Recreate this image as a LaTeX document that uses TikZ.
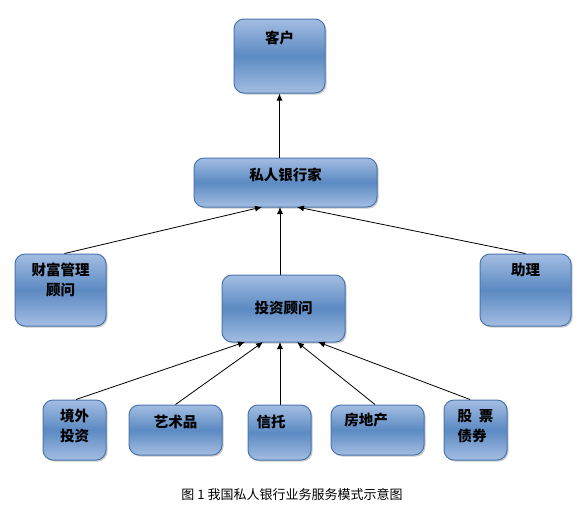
\documentclass[tikz,border=0pt]{standalone}
\usepackage{fontspec}
\newfontfamily\cjk{Noto Sans CJK SC}
\usetikzlibrary{shadows,arrows.meta}
\definecolor{boxlight}{HTML}{A3BDE2}
\definecolor{boxmid}{HTML}{4F81BD}
\definecolor{boxedge}{HTML}{4A76AE}
\begin{document}
\begin{tikzpicture}[x=1pt,y=-1pt,
  box/.style={draw=boxedge, line width=1pt, rounded corners=10pt,
    top color=boxlight, bottom color=boxlight, middle color=boxmid!85!boxlight,
    shading angle=0,
    drop shadow={shadow xshift=1.5pt, shadow yshift=-1.5pt, opacity=0.35, fill=black!60},
    inner sep=0pt, font=\cjk\bfseries\fontsize{14}{20}\selectfont, align=center,
    text=black},
  lbl/.style={font=\cjk\bfseries\fontsize{14.5}{20}\selectfont, align=center, text=black},
  conn/.style={-{Latex[length=7pt,width=6pt]}, line width=0.8pt, draw=black}]
\useasboundingbox (0,0) rectangle (580,520);
\fill[white] (0,0) rectangle (580,520);
% boxes
\node[box, minimum width=91pt, minimum height=74pt] (kehu) at (279.5,56) {};
\node[lbl] (kehut) at (279.5,38) {客户};
\node[box, minimum width=183pt, minimum height=49pt] (sr) at (285.5,182.5) {};
\node[lbl] (srt) at (285.5,175) {私人银行家};
\node[box, minimum width=91pt, minimum height=72pt] (cf) at (60.5,290) {};
\node[lbl] (cft) at (60.5,280) {财富管理\\顾问};
\node[box, minimum width=123pt, minimum height=67pt] (tz) at (283.5,308.5) {};
\node[lbl] (tzt) at (283.5,308) {投资顾问};
\node[box, minimum width=91pt, minimum height=72pt] (zl) at (525.5,290) {};
\node[lbl] (zlt) at (525.5,270) {助理};
\node[box, minimum width=63pt, minimum height=60pt] (jw) at (74.5,430) {};
\node[lbl] (jwt) at (74.5,426) {境外\\投资};
\node[box, minimum width=93pt, minimum height=50pt] (ys) at (175.5,430) {};
\node[lbl] (yst) at (175.5,422) {艺术品};
\node[box, minimum width=63pt, minimum height=55pt] (xt) at (279.5,432.5) {};
\node[lbl] (xtt) at (271,422) {信托};
\node[box, minimum width=93pt, minimum height=50pt] (fd) at (377.5,430) {};
\node[lbl] (fdt) at (366,420) {房地产};
\node[box, minimum width=63pt, minimum height=60pt] (gp) at (475.5,430) {};
\node[lbl, align=left] (gpt) at (475.5,426) {股\ \ 票\\债券};
% connectors
\coordinate (srb1) at (262,207);
\coordinate (srb2) at (280,207);
\coordinate (srb3) at (297,207);
\coordinate (tzb1) at (245,342);
\coordinate (tzb2) at (263,342);
\coordinate (tzb3) at (280,342);
\coordinate (tzb4) at (297,342);
\coordinate (tzb5) at (318,342);
\draw[conn] (sr.north -| kehu.south) -- (kehu.south);
\draw[conn] (tz.north -| srb2) -- (srb2);
\draw[conn] (cf.north) ++(4,0) -- (srb1);
\draw[conn] (zl.north) -- (srb3);
\draw[conn] (jw.north) ++(1.5,0) -- (tzb1);
\draw[conn] (ys.north) -- (tzb2);
\draw[conn] (xt.north -| tzb3) -- (tzb3);
\draw[conn] (fd.north) ++(-2.5,0) -- (tzb4);
\draw[conn] (gp.north) ++(-5.5,0) -- (tzb5);
% caption
\node[font=\cjk\fontsize{13}{15}\selectfont] (cap) at (292,495) {图 1 我国私人银行业务服务模式示意图};
\end{tikzpicture}
\end{document}
